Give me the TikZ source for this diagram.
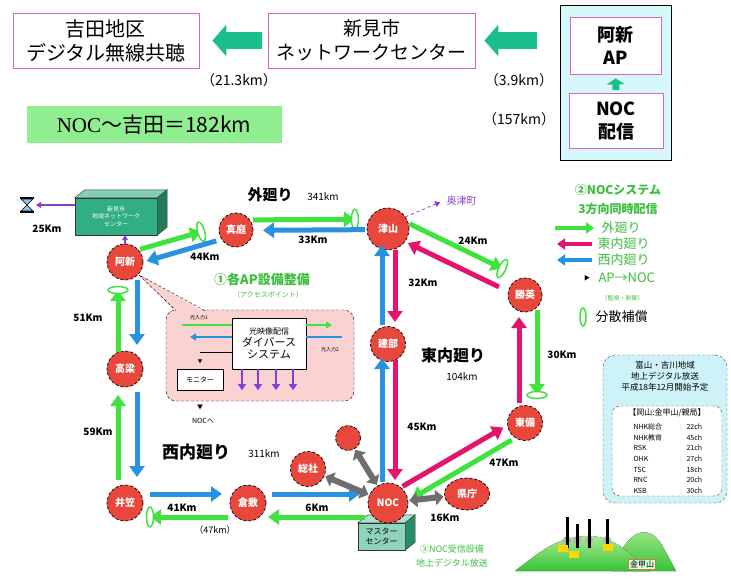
\documentclass[tikz,border=0pt]{standalone}
\usepackage{fontspec}
\setmainfont{Noto Sans CJK JP}
\newfontfamily\romanfont{Liberation Serif}
\usetikzlibrary{arrows.meta,calc,shapes.geometric}

\definecolor{teal1}{RGB}{25,190,140}
\definecolor{boxpink}{RGB}{210,100,210}
\definecolor{cOuter}{RGB}{64,226,64}
\definecolor{cEast}{RGB}{228,20,110}
\definecolor{cWest}{RGB}{40,146,224}
\definecolor{apred}{RGB}{232,72,60}
\definecolor{lgreen}{RGB}{60,190,60}
\definecolor{calloutpink}{RGB}{251,210,210}
\definecolor{skycyan}{RGB}{215,248,248}
\definecolor{infocyan}{RGB}{205,242,248}
\definecolor{sumgreen}{RGB}{144,238,144}
\definecolor{violet1}{RGB}{140,60,210}
\definecolor{boxteal}{RGB}{50,175,130}
\definecolor{gear}{RGB}{110,110,110}

% parallel link: style, from, to, side offset, gap at start, gap at end
\newcommand{\route}[6]{\draw[#1] ($($(#2)!#5!(#3)$)!#4!90:(#3)$) -- ($($(#3)!#6!(#2)$)!#4!-90:(#2)$)}

\begin{document}
\begin{tikzpicture}[x=1pt,y=-1pt,font=\fontsize{10}{12}\selectfont,
  tb/.style={draw=boxpink,line width=.8pt,fill=white,align=center,inner sep=0pt},
  bigarr/.style={draw=teal1,line width=17pt,-{Triangle[width=31pt,length=14pt]}},
  ap/.style={circle,draw=black,densely dashed,line width=.7pt,fill=apred,text=white,
    font=\bfseries\fontsize{10}{12}\selectfont,inner sep=0pt},
  ga/.style={draw=cOuter,line width=5pt,-{Triangle[width=15pt,length=11pt]}},
  ma/.style={ga,draw=cEast},
  ba/.style={ga,draw=cWest},
  gy/.style={draw=gear,line width=6pt,{Triangle[width=15pt,length=8pt]}-{Triangle[width=15pt,length=8pt]},
    shorten <=1pt,shorten >=1pt},
  pa/.style={draw=violet1,line width=1.5pt,-{Triangle[width=6pt,length=5pt]}},
  comp/.style={ellipse,draw=cOuter,line width=1.5pt,fill=white,minimum width=7pt,minimum height=20pt,inner sep=0pt},
  km/.style={font=\bfseries\fontsize{10}{12}\selectfont},
  cube/.style={draw=black!80,fill=boxteal,align=center,inner sep=0pt},
  lg/.style={text=lgreen,font=\fontsize{13}{15}\selectfont,anchor=west}]
\useasboundingbox (0,0) rectangle (731,584);

% --- upper part: route to Yoshida
\node[tb,minimum width=186pt,minimum height=55pt,font=\fontsize{20}{24}\selectfont] (yoshida) at (106,40.5) {吉田地区\\デジタル無線共聴};
\node[tb,minimum width=207pt,minimum height=55pt,font=\fontsize{19}{24}\selectfont] (niimi) at (371.5,40.5) {新見市\\ネットワークセンター};
\node[draw=black,fill=skycyan,minimum width=111pt,minimum height=155pt] (apsite) at (615.5,82.5) {};
\node[tb,minimum width=91pt,minimum height=57pt,font=\bfseries\fontsize{18}{23}\selectfont] (apnode) at (615.5,45.5) {阿新\\AP};
\node[tb,minimum width=94pt,minimum height=55pt,font=\bfseries\fontsize{18}{23}\selectfont] (nocsend) at (616,121) {NOC\\配信};
\draw[bigarr,shorten <=6pt,shorten >=13pt] (niimi.west) -- (yoshida.east);
\draw[bigarr,shorten <=33pt,shorten >=9pt] (niimi.east -| apnode.west) -- (niimi.east);
\draw[draw=teal1,line width=7pt,-{Triangle[width=18pt,length=6pt]},shorten <=3pt,shorten >=4pt] (nocsend.north) -- (apnode.south);
\node[font=\fontsize{14}{16}\selectfont] (d1) at (239,80) {（21.3km）};
\node[font=\fontsize{14}{16}\selectfont] (d2) at (519,80) {（3.9km）};
\node[font=\fontsize{14}{16}\selectfont] (d3) at (519,119) {（157km）};
\node[fill=sumgreen,minimum width=255pt,minimum height=37pt,font=\fontsize{21}{24}\selectfont] (total) at (154,124.5) {{\romanfont NOC}〜吉田＝182km};

% --- AP callout
\node[draw,densely dashed,fill=calloutpink,rounded corners=10pt,minimum width=188pt,minimum height=91pt] (callout) at (260,355.5) {};
\coordinate (tip) at (139,275);
\fill[calloutpink] (tip) -- (205,312) -- (176,312) -- cycle;
\draw[densely dashed] (205,310.6) -- (tip) -- (176,310.6);
\node[text=lgreen,font=\bfseries\fontsize{13}{15}\selectfont] (aptitle) at (262,280) {①各AP設備整備};
\node[text=lgreen,font=\fontsize{7}{8}\selectfont] (apsub) at (268,295) {（アクセスポイント）};
\node[draw,fill=white,minimum width=74pt,minimum height=51pt,align=center,inner sep=0pt] (diver) at (269,343.5)
  {{\fontsize{8}{10}\selectfont 光映像配信}\\{\fontsize{11}{14}\selectfont ダイバース}\\{\fontsize{11}{14}\selectfont システム}};
\coordinate (in1) at (182,325); \coordinate (out1) at (332,325);
\coordinate (in2) at (342,337); \coordinate (out2) at (190,337);
\coordinate (monline) at (200,352);
\draw[draw=cOuter,line width=1.8pt] (in1) -- (in1 -| diver.west);
\draw[draw=cOuter,line width=1.8pt,-{Triangle[width=7pt,length=6pt]}] (in1 -| diver.east) -- (out1);
\draw[draw=cWest,line width=1.8pt] (in2) -- (in2 -| diver.east);
\draw[draw=cWest,line width=1.8pt,-{Triangle[width=7pt,length=6pt]}] (in2 -| diver.west) -- (out2);
\draw[line width=.8pt] (monline) -- (monline -| diver.west);
\node[font=\fontsize{5}{6}\selectfont] (in1lbl) at (199,318) {光入力1};
\node[font=\fontsize{5}{6}\selectfont] (in2lbl) at (330,350) {光入力2};
\node[font=\fontsize{5}{6}\selectfont] (monarr) at (200,362) {▼};
\node[draw,fill=white,minimum width=46pt,minimum height=21pt,font=\fontsize{7}{8}\selectfont] (monitor) at (200,379.5) {モニター};
\foreach \dx in {-27,-11,7,24}
  \draw[draw=violet1,line width=2.5pt,-{Triangle[width=8pt,length=6pt]}] ([xshift=\dx pt]diver.south) -- ++(0,21);
\node[font=\fontsize{6}{7}\selectfont] (nocarr) at (200,407) {▼};
\node[font=\fontsize{7}{8}\selectfont] (tonoc) at (203,421) {NOCへ};

% --- Niimi area network centre
\node[cube,text=white,minimum width=82pt,minimum height=37pt,font=\fontsize{6}{7.5}\selectfont] (ncbox) at (116,216.5) {新見市\\地域ネットワーク\\センター};
\filldraw[fill=boxteal!60!white,draw=black!80] (ncbox.north west) -- ++(10,-8) -- ([shift={(10,-8)}]ncbox.north east) -- (ncbox.north east) -- cycle;
\filldraw[fill=boxteal!70!black,draw=black!80] (ncbox.north east) -- ++(10,-8) -- ([shift={(10,-8)}]ncbox.south east) -- (ncbox.south east) -- cycle;
\coordinate (hglass) at (27,205);
\filldraw[fill=cWest!55!white,line width=.6pt] ([shift={(-6,-6)}]hglass) -- ([shift={(6,-6)}]hglass) -- ([shift={(-6,6)}]hglass) -- ([shift={(6,6)}]hglass) -- cycle;
\draw[line width=1.6pt] ([shift={(-7,-7)}]hglass) -- ([shift={(7,-7)}]hglass) ([shift={(-7,7)}]hglass) -- ([shift={(7,7)}]hglass);
\draw[pa,shorten >=9pt] (ncbox.west |- hglass) -- (hglass);
\node[km] (d25) at (47,229) {25Km};

% --- master centre
\node[cube,minimum width=47pt,minimum height=27pt,fill=boxteal!55!white,font=\fontsize{8}{10}\selectfont] (master) at (381.5,536.5) {マスター\\センター};
\filldraw[fill=boxteal!40!white,draw=black!80] (master.north west) -- ++(10,-8) -- ([shift={(10,-8)}]master.north east) -- (master.north east) -- cycle;
\filldraw[fill=boxteal!80!black,draw=black!80] (master.north east) -- ++(10,-8) -- ([shift={(10,-8)}]master.south east) -- (master.south east) -- cycle;
\node[text=lgreen,align=center,font=\fontsize{9}{14}\selectfont] (nocrecv) at (452,556) {③NOC受信設備\\地上デジタル放送};

% --- access points
\node[ap,minimum size=36pt] (ashin) at (125,262) {阿新};
\node[ap,minimum size=34pt] (maniwa) at (236,230) {真庭};
\node[ap,minimum size=42pt] (tsuyama) at (388,229) {津山};
\node[ap,minimum size=34pt] (shoei) at (525,295) {勝英};
\node[ap,minimum size=35pt] (toubi) at (525,423) {東備};
\node[ap,minimum size=35pt] (tatebe) at (388,344) {建部};
\node[ap,minimum size=25pt] (sub) at (348,438) {};
\node[ap,minimum size=35pt] (soja) at (308,469) {総社};
\node[ap,ellipse,minimum width=45pt,minimum height=32pt] (kencho) at (467,494) {県庁};
\node[ap,minimum size=36pt] (takahashi) at (125,369) {高梁};
\node[ap,minimum size=36pt] (ikasa) at (125,503) {井笠};
\node[ap,minimum size=36pt] (kurashiki) at (248,503) {倉敷};
\node[ap,minimum size=40pt] (noc) at (388,503) {NOC};

\draw[pa] (ashin.north) -- (ashin.north |- ncbox.south);
\node[text=violet1,anchor=west,font=\fontsize{10}{12}\selectfont] (okutsu) at (443,201) {奥津町};
\draw[pa,line width=.8pt,dashed,shorten >=3pt] (tsuyama.35) -- (okutsu.west);

% outer loop
\route{ga}{noc}{kurashiki}{14pt}{23pt}{20pt};
\route{ga}{kurashiki}{ikasa}{14pt}{20pt}{25pt} node[pos=1,sloped,comp]{};
\route{ga}{ikasa}{takahashi}{7pt}{23pt}{26pt};
\route{ga}{takahashi}{ashin}{7pt}{17pt}{28pt} node[pos=1,sloped,comp]{};
\route{ga}{ashin}{maniwa}{8pt}{18pt}{34pt} node[pos=1,sloped,comp]{};
\route{ga}{maniwa}{tsuyama}{10pt}{17pt}{33pt} node[pos=1,sloped,comp]{};
\route{ga}{tsuyama}{shoei}{14pt}{17pt}{32pt} node[pos=1,sloped,comp]{};
\route{ga}{shoei}{toubi}{12pt}{15pt}{28pt} node[pos=1,sloped,comp]{};
\route{ga}{toubi}{noc}{8pt}{20pt}{23pt};
% east inner loop
\route{ma}{noc}{toubi}{7pt}{21pt}{21pt};
\route{ma}{toubi}{shoei}{6pt}{20pt}{22pt};
\route{ma}{shoei}{tsuyama}{4pt}{27pt}{24pt};
\route{ma}{tsuyama}{tatebe}{7pt}{21pt}{22pt};
\route{ma}{tatebe}{noc}{7pt}{16pt}{23pt};
% west inner loop
\route{ba}{noc}{tatebe}{6pt}{21pt}{14pt};
\route{ba}{tatebe}{tsuyama}{6pt}{19pt}{16pt};
\route{ba}{tsuyama}{maniwa}{0.5pt}{23pt}{27pt};
\route{ba}{maniwa}{ashin}{5pt}{22pt}{21pt};
\route{ba}{ashin}{takahashi}{12pt}{18pt}{24pt};
\route{ba}{takahashi}{ikasa}{12pt}{23pt}{26pt};
\route{ba}{ikasa}{kurashiki}{9pt}{25pt}{26pt};
\route{ba}{kurashiki}{noc}{9pt}{24pt}{28pt};
% AP -> NOC
\draw[gy] (soja) -- (noc);
\draw[gy] (sub) -- (noc);
\draw[gy] (noc) -- (kencho);

% distances
\node[font=\bfseries\fontsize{15}{17}\selectfont] (outname) at (270,195) {外廻り};
\node[font=\fontsize{10}{12}\selectfont] (outlen) at (323,197) {341km};
\node[km] (k33) at (313,240) {33Km};
\node[km] (k44) at (205,257) {44Km};
\node[km] (k51) at (88,318) {51Km};
\node[km] (k59) at (98,432) {59Km};
\node[font=\bfseries\fontsize{17}{19}\selectfont] (westname) at (196,452) {西内廻り};
\node[font=\fontsize{10}{12}\selectfont] (westlen) at (264,454) {311km};
\node[km] (k41) at (182,508) {41Km};
\node[km,font=\fontsize{9}{11}\selectfont] (k47b) at (215,530) {（47km）};
\node[km] (k6) at (317,508) {6Km};
\node[km] (k16) at (445,518) {16Km};
\node[km] (k47) at (504,463) {47Km};
\node[km] (k45) at (422,427) {45Km};
\node[font=\bfseries\fontsize{16}{18}\selectfont] (eastname) at (453,355) {東内廻り};
\node[font=\fontsize{10}{12}\selectfont] (eastlen) at (462,377) {104km};
\node[km] (k30) at (562,355) {30Km};
\node[km] (k32) at (423,283) {32Km};
\node[km] (k24) at (473,241) {24Km};

% --- legend
\node[text=lgreen,align=center,font=\bfseries\fontsize{12}{19}\selectfont] (sys) at (618,199) {②NOCシステム\\3方向同時配信};
\node[lg] (lgout) at (598,228) {外廻り};
\node[lg] (lgeast) at (594,244) {東内廻り};
\node[lg] (lgwest) at (594,260) {西内廻り};
\draw[ga,line width=3.5pt,-{Triangle[width=11pt,length=8pt]}] ([xshift=-43pt]lgout.west) -- ([xshift=-4pt]lgout.west);
\draw[ma,line width=3.5pt,-{Triangle[width=11pt,length=8pt]}] ([xshift=-2pt]lgeast.west) -- ([xshift=-37pt]lgeast.west);
\draw[ba,line width=3.5pt,-{Triangle[width=11pt,length=8pt]}] ([xshift=-2pt]lgwest.west) -- ([xshift=-37pt]lgwest.west);
\node[lg] (lgap) at (595,278) {AP→NOC};
\node[font=\fontsize{6}{7}\selectfont] (lgtri) at (587,278) {▶};
\node[lg,font=\fontsize{6}{7}\selectfont] (lgctl) at (598,298) {（監視・制御）};
\node[comp,minimum width=6pt,minimum height=18pt] (lgmark) at (583,317) {};
\node[anchor=west,font=\fontsize{13}{15}\selectfont] (lgcomp) at (592,317) {分散補償};

% --- channel info
\node[draw=black!70,densely dashed,fill=infocyan,rounded corners=12pt,minimum width=124pt,minimum height=148pt] (info) at (665,429) {};
\node[align=center,font=\fontsize{8.5}{11}\selectfont] (infohead) at (665,376) {富山・吉川地域\\地上デジタル放送\\平成18年12月開始予定};
\node[draw=black!70,densely dashed,fill=white,rounded corners=8pt,minimum width=110pt,minimum height=90pt] (chan) at (667,451) {};
\node[font=\fontsize{8}{10}\selectfont] (chanhead) at (667,413) {【岡山:金甲山/親局】};
\foreach \st/\ch [count=\i] in {NHK総合/22ch,NHK教育/45ch,RSK/21ch,OHK/27ch,TSC/18ch,RNC/20ch,KSB/30ch}{
  \node[anchor=west,font=\fontsize{7}{8}\selectfont] (st\i) at (630,{416+10.7*\i}) {\st};
  \node[anchor=west,font=\fontsize{7}{8}\selectfont] (ch\i) at (683,{416+10.7*\i}) {\ch};
}

% --- Kinkozan
\fill[top color={rgb,255:red,175;green,235;blue,150},bottom color={rgb,255:red,55;green,195;blue,55}]
  (612,571) .. controls (626,530) and (648,522) .. (662,545) -- (676,571) -- cycle;
\fill[top color={rgb,255:red,175;green,235;blue,150},bottom color={rgb,255:red,55;green,195;blue,55}]
  (515,571) .. controls (540,552) and (555,538) .. (585,536) .. controls (610,535) and (625,548) .. (650,571) -- cycle;
\foreach \x/\t in {567/517,577/524,589/519,607/519}{
  \fill[gray!60] (\x,540) circle (4);
  \fill[black] (\x-1.5,\t) rectangle (\x+1.5,548);
}
\fill[yellow!75!orange] (558,545) rectangle (568,552);
\fill[yellow!75!orange] (569,551) rectangle (579,558);
\fill[yellow!75!orange] (603,544) rectangle (613,551);
\node[draw=brown,fill=green!15,font=\fontsize{8}{9}\selectfont,inner sep=1.5pt] (kinko) at (642,564) {金甲山};
\end{tikzpicture}
\end{document}
